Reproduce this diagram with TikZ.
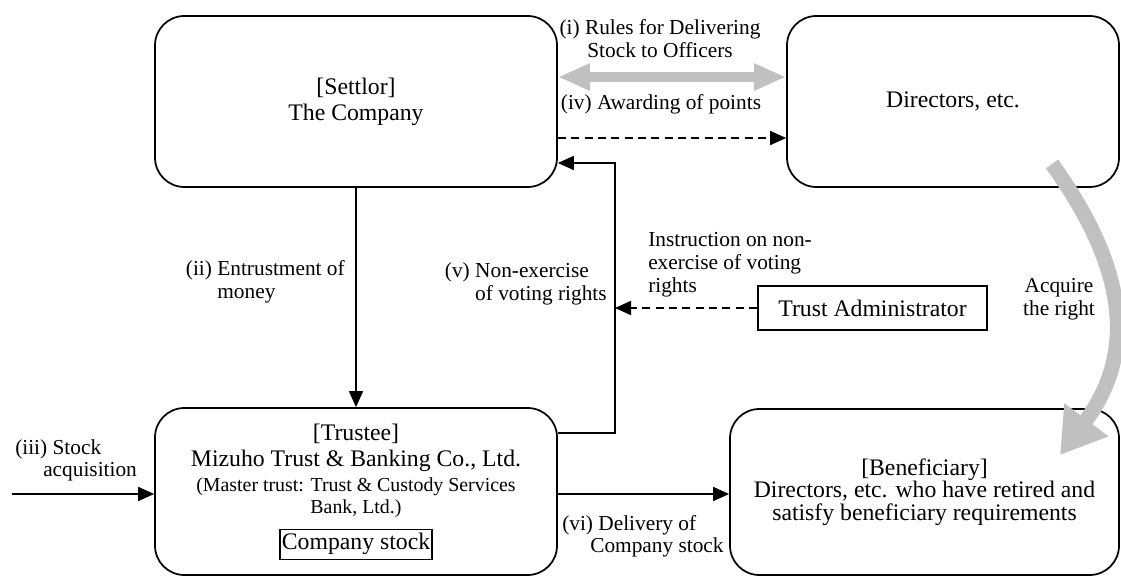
\documentclass[tikz,border=0pt]{standalone}
\usepackage{fontspec}
\setmainfont{Liberation Serif}
\usetikzlibrary{arrows.meta}

\definecolor{lightgrey}{RGB}{192,192,192}
\newcommand\boxfont{\fontsize{17.8}{19.5}\selectfont}
\newcommand\notefont{\fontsize{16}{17}\selectfont}
\newcommand\finefont{\fontsize{14.9}{16.8}\selectfont}
\setlength\fboxsep{1pt}
\setlength\fboxrule{1.2pt}

\tikzset{
  party/.style={draw, line width=1.3pt, rounded corners=22pt, align=center, inner sep=0pt, font=\boxfont},
  plainbox/.style={draw, line width=1.3pt, inner sep=0pt, font=\boxfont},
  note/.style={font=\notefont, inner sep=0pt},
  flow/.style={line width=1.3pt, -{Triangle[length=12pt,width=10.5pt]}},
  dashflow/.style={flow, dash pattern=on 6pt off 4pt},
  grayboth/.style={draw=lightgrey, line width=7.5pt, {Triangle[length=24pt,width=18.75pt]}-{Triangle[length=24pt,width=18.75pt]}},
  acqarrow/.style={draw=lightgrey, line width=11.25pt, -{Triangle[length=33pt,width=39pt]}}
}

\begin{document}
\begin{tikzpicture}[x=0.75pt,y=-0.75pt]
    \useasboundingbox (0,0) rectangle (1121,577);

    % parties
    \node[party, minimum width=301.5pt, minimum height=128.25pt] (settlor) at (356,101.5) {[Settlor]\\The Company};
    \node[party, minimum width=249pt, minimum height=128.25pt] (directors) at (953,101.5) {Directors, etc.};
    \node[party, minimum width=301.5pt, minimum height=125.25pt] (trustee) at (356,491.5) {\begin{tabular}{@{}c@{}}
        [Trustee]\\[-0.3pt]
        Mizuho Trust \& Banking Co., Ltd.\\[-0.75pt]
        {\finefont (Master trust: Trust \& Custody Services}\\[-2.7pt]
        {\finefont Bank, Ltd.)}\\[5.3pt]
        \fbox{\strut Company stock}
      \end{tabular}};
    \node[party, font=\fontsize{17.8}{17}\selectfont, minimum width=291.75pt, minimum height=124.5pt] (benef) at (924.5,492) {[Beneficiary]\\Directors, etc. who have retired and\\satisfy beneficiary requirements};
    \node[plainbox, minimum width=171.75pt, minimum height=33pt] (admin) at (872.5,308) {Trust Administrator};

    % labels
    \node[note, anchor=base] (rulesnote) at (660,35) {\begin{tabular}[t]{@{}c@{}}(i) Rules for Delivering\\Stock to Officers\end{tabular}};
    \node[note, anchor=base] (pointsnote) at (661,110) {(iv) Awarding of points};
    \node[note, anchor=base east] (moneynote) at (345,276) {\begin{tabular}[t]{@{}l@{ }l@{}}(ii)&Entrustment of\\&money\end{tabular}};
    \node[note, anchor=base east] (votenote) at (607,278) {\begin{tabular}[t]{@{}l@{ }l@{}}(v)&Non-exercise\\&of voting rights\end{tabular}};
    \node[note, anchor=base west] (instrnote) at (648,247) {\begin{tabular}[t]{@{}l@{}}Instruction on non-\\exercise of voting\\rights\end{tabular}};
    \node[note, anchor=base] (acqnote) at (1059,292.7) {\begin{tabular}[t]{@{}c@{}}Acquire\\the right\end{tabular}};
    \node[note, anchor=base west] (buynote) at (15,454) {\begin{tabular}[t]{@{}l@{}}(iii) Stock\\\hspace*{21pt}acquisition\end{tabular}};
    \node[note, anchor=base west] (delivnote) at (562,530) {\begin{tabular}[t]{@{}l@{}}(vi) Delivery of\\\hspace*{21pt}Company stock\end{tabular}};

    % connectors
    \coordinate (rulesrow) at (672,77);
    \coordinate (pointsrow) at (672,138);
    \coordinate (vtop) at (615,163);
    \coordinate (vbot) at (615,433);
    \coordinate (stockrow) at (12,494);
    \coordinate (acqstart) at (1052,164);
    \coordinate (acqend) at (1060,455);

    \draw[grayboth] (rulesrow -| settlor.east) -- (rulesrow -| directors.west);
    \draw[dashflow] (pointsrow -| settlor.east) -- (pointsrow -| directors.west);
    \draw[flow] (settlor.south) -- (trustee.north);
    \draw[flow] (vbot -| trustee.east) -- (vbot) -- (vtop) -- (vtop -| settlor.east);
    \draw[dashflow] (admin.west) -- (admin.west -| vtop);
    \draw[flow] (stockrow) -- (stockrow -| trustee.west);
    \draw[flow] (stockrow -| trustee.east) -- (stockrow -| benef.west);
    \draw[acqarrow] (acqstart) .. controls (1116,253) and (1144,343) .. (acqend);
\end{tikzpicture}
\end{document}
